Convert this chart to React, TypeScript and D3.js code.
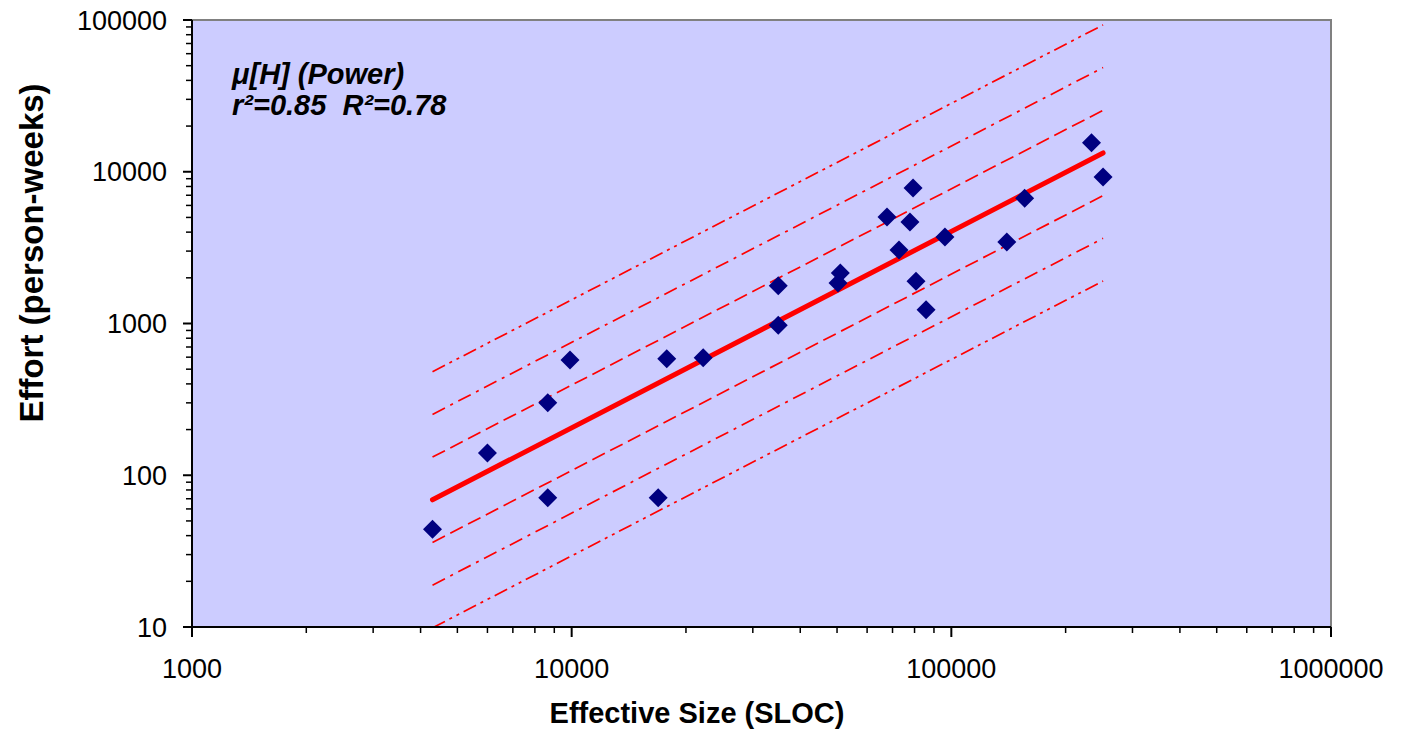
import React from "react";
import * as d3 from "d3";

// ---- data ----
const sizes = [4300, 6000, 8650, 8650, 9900, 16900, 17800, 22200, 35000, 35000, 51000, 50300, 67700, 79300, 77800, 72800, 80700, 85800, 96200, 140000, 156000, 234000, 251000];
const efforts = [44, 140, 300, 71, 575, 71, 585, 595, 1770, 975, 2150, 1850, 5030, 7800, 4670, 3050, 1900, 1230, 3720, 3440, 6700, 15500, 9240];

const fitCoef = 1.37e-3; // Effort = a * Size^b
const fitExp = 1.294;
const bandFactor = 1.911; // multiplicative step per band
const bandSteps = [3, 2, 1, -1, -2, -3];

const xTickValues = [1000, 10000, 100000, 1000000];
const yTickValues = [10, 100, 1000, 10000, 100000];

const W = 1407;
const H = 730;
const M = { left: 192, top: 20, right: 1331, bottom: 627 };

const dashFor = (s: number) => {
  const a = Math.abs(s);
  if (a === 1) return "14 6";
  if (a === 2) return "14 6 3 6";
  return "14 5 3 5 3 5";
};

export default function App() {
  const x = d3.scaleLog().domain([1000, 1000000]).range([M.left, M.right]);
  const y = d3.scaleLog().domain([10, 100000]).range([M.bottom, M.top]);

  const xMin = d3.min(sizes) as number;
  const xMax = d3.max(sizes) as number;
  const fit = (s: number) => fitCoef * Math.pow(s, fitExp);
  const xs = [xMin, xMax];
  const line = (k: number) =>
    d3
      .line<number>()
      .x((s) => x(s))
      .y((s) => y(fit(s) * Math.pow(bandFactor, k)))(xs) as string;

  const minorX: number[] = [];
  for (let d = 1000; d < 1000000; d *= 10) for (let m = 2; m <= 9; m++) minorX.push(d * m);
  const minorY: number[] = [];
  for (let d = 10; d < 100000; d *= 10) for (let m = 2; m <= 9; m++) minorY.push(d * m);

  const font = "'Liberation Sans', Arial, sans-serif";

  return (
    <svg width={W} height={H} style={{ position: "absolute", left: 0, top: 0 }} fontFamily={font}>
      <defs>
        <clipPath id="plotClip">
          <rect x={M.left} y={M.top} width={M.right - M.left} height={M.bottom - M.top} />
        </clipPath>
      </defs>
      <rect x={0} y={0} width={W} height={H} fill="#ffffff" />
      <rect x={M.left} y={M.top} width={M.right - M.left} height={M.bottom - M.top} fill="#CCCCFF" />
      {/* top and right border */}
      <path d={`M${M.left},${M.top}H${M.right}V${M.bottom}`} fill="none" stroke="#808080" strokeWidth={2} />

      <g clipPath="url(#plotClip)">
        {bandSteps.map((k) => (
          <path key={k} d={line(k)} fill="none" stroke="#FF0000" strokeWidth={1.7} strokeDasharray={dashFor(k)} />
        ))}
        <path d={line(0)} fill="none" stroke="#FF0000" strokeWidth={5} strokeLinecap="round" />
      </g>

      {sizes.map((s, i) => {
        const cx = x(s);
        const cy = y(efforts[i]);
        const r = 9.5;
        return <path key={i} d={`M${cx},${cy - r}L${cx + r},${cy}L${cx},${cy + r}L${cx - r},${cy}Z`} fill="#000080" />;
      })}

      {/* axes */}
      <line x1={M.left} x2={M.left} y1={M.top} y2={M.bottom} stroke="#000" strokeWidth={2} />
      <line x1={M.left - 1} x2={M.right} y1={M.bottom} y2={M.bottom} stroke="#000" strokeWidth={2} />
      {minorX.map((v) => (
        <line key={"mx" + v} x1={x(v)} x2={x(v)} y1={M.bottom} y2={M.bottom + 6} stroke="#000" strokeWidth={1.5} />
      ))}
      {xTickValues.map((v) => (
        <g key={"x" + v}>
          <line x1={x(v)} x2={x(v)} y1={M.bottom} y2={M.bottom + 10} stroke="#000" strokeWidth={2} />
          <text x={x(v)} y={678} textAnchor="middle" fontSize={27} fill="#000">
            {v}
          </text>
        </g>
      ))}
      {minorY.map((v) => (
        <line key={"my" + v} x1={M.left - 6} x2={M.left} y1={y(v)} y2={y(v)} stroke="#000" strokeWidth={1.5} />
      ))}
      {yTickValues.map((v) => (
        <g key={"y" + v}>
          <line x1={M.left - 9} x2={M.left} y1={y(v)} y2={y(v)} stroke="#000" strokeWidth={2} />
          <text x={167} y={y(v) + 9.5} textAnchor="end" fontSize={27} fill="#000">
            {v}
          </text>
        </g>
      ))}

      {/* annotation */}
      <text x={232} y={84} fontSize={29} fontWeight="bold" fontStyle="italic" fill="#000">
        μ[H] (Power)
      </text>
      <text x={232} y={115} fontSize={29} fontWeight="bold" fontStyle="italic" fill="#000" style={{ whiteSpace: "pre" }}>
        {"r²=0.85  R²=0.78"}
      </text>

      {/* axis titles */}
      <text x={697} y={723} textAnchor="middle" fontSize={29} fontWeight="bold" fill="#000">
        Effective Size (SLOC)
      </text>
      <text transform={`translate(43,253) rotate(-90)`} textAnchor="middle" fontSize={33} fontWeight="bold" fill="#000">
        Effort (person-weeks)
      </text>
    </svg>
  );
}
